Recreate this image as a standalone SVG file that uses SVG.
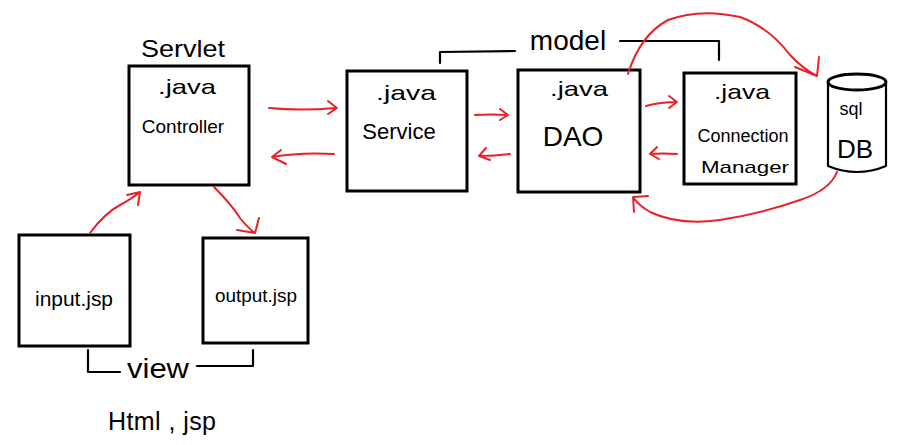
<svg xmlns="http://www.w3.org/2000/svg" width="904" height="445" viewBox="0 0 904 445">
<defs>
<style>
.box{fill:#fff;stroke:#000;stroke-width:3}
.br{fill:none;stroke:#000;stroke-width:2.2;stroke-linecap:round;stroke-linejoin:round}
.t{font-family:"Liberation Sans","DejaVu Sans",sans-serif;fill:#000;text-anchor:middle}
.red{fill:none;stroke:#e8212b;stroke-width:2;stroke-linecap:round;stroke-linejoin:round}
</style>
</defs>
<rect width="904" height="445" fill="#fff"/>

<g id="controller">
<text class="t" x="183" y="57" font-size="24" textLength="84" lengthAdjust="spacingAndGlyphs">Servlet</text>
<rect class="box" x="129" y="66" width="120" height="119"/>
<text class="t" x="187" y="94" font-size="21" textLength="58" lengthAdjust="spacingAndGlyphs">.java</text>
<text class="t" x="183" y="133" font-size="19">Controller</text>
</g>

<g id="service">
<rect class="box" x="347" y="71" width="120" height="120"/>
<text class="t" x="406" y="100" font-size="21" textLength="60" lengthAdjust="spacingAndGlyphs">.java</text>
<text class="t" x="399" y="139" font-size="22">Service</text>
</g>

<g id="dao">
<rect class="box" x="518" y="70" width="122" height="122"/>
<text class="t" x="579" y="96" font-size="21" textLength="58" lengthAdjust="spacingAndGlyphs">.java</text>
<text class="t" x="573" y="146" font-size="28" font-weight="300">DAO</text>
</g>

<g id="connection-manager">
<rect class="box" x="684" y="73" width="112" height="111"/>
<text class="t" x="742" y="99" font-size="21" textLength="56" lengthAdjust="spacingAndGlyphs">.java</text>
<text class="t" x="743" y="142" font-size="18">Connection</text>
<text class="t" x="745" y="173" font-size="17" textLength="88" lengthAdjust="spacingAndGlyphs">Manager</text>
</g>

<g id="db">
<path class="br" stroke-width="3" d="M828,82 L828,166 Q857,178 886,166 L886,82"/>
<ellipse cx="857" cy="82" rx="29" ry="8" fill="#fff" stroke="#000" stroke-width="3"/>
<text class="t" x="851" y="115" font-size="18">sql</text>
<text class="t" x="855" y="158" font-size="26">DB</text>
</g>

<g id="input">
<rect class="box" x="19" y="235" width="111" height="111"/>
<text class="t" x="74" y="306" font-size="20" textLength="78" lengthAdjust="spacingAndGlyphs">input.jsp</text>
</g>

<g id="output">
<rect class="box" x="203" y="238" width="105" height="105"/>
<text class="t" x="256" y="302" font-size="18" textLength="82" lengthAdjust="spacingAndGlyphs">output.jsp</text>
</g>

<g id="model-label">
<path class="br" d="M440,63 L440,52 L515,51"/>
<text class="t" x="568" y="50" font-size="28">model</text>
<path class="br" d="M620,41 L719,41 L719,60"/>
</g>

<g id="view-label">
<path class="br" d="M88,350 L88,372 L120,372"/>
<text class="t" x="158" y="378" font-size="28" textLength="62" lengthAdjust="spacingAndGlyphs">view</text>
<path class="br" d="M197,366 L253,366 L253,350"/>
</g>

<g id="html-jsp">
<text class="t" x="162" y="430" font-size="25" textLength="108" lengthAdjust="spacing">Html , jsp</text>
</g>

<g id="connectors">
<path class="red" d="M269,108 Q300,111 336,108 M328,101 L337,108 L328,114"/>
<path class="red" d="M334,154 Q300,152 272,157 M281,150 L272,157 L286,164"/>
<path class="red" d="M475,115 Q490,114 508,115 M500,109 L508,115 L500,120"/>
<path class="red" d="M510,154 Q495,156 480,156 M486,148 L479,156 L490,160"/>
<path class="red" d="M646,106 Q660,102 677,102 M669,96 L677,102 L669,108"/>
<path class="red" d="M677,154 Q662,153 651,154 M657,147 L650,154 L659,159"/>
<path class="red" d="M90,233 Q105,213 120,205 Q133,198 140,192 M127,195 L140,192 L138,205"/>
<path class="red" d="M214,187 Q232,205 240,218 Q248,228 255,233 M237,230 L255,233 L259,218"/>
<path class="red" d="M628,74 Q640,35 668,20 Q700,8 740,17 Q770,28 790,55 Q802,68 817,76 M795,67 L817,76 L819,57"/>
<path class="red" d="M837,172 Q830,190 800,200 Q760,214 720,220 Q680,226 650,212 Q638,205 633,197 M633,197 L634,212 M633,197 L648,196"/>
</g>
</svg>
